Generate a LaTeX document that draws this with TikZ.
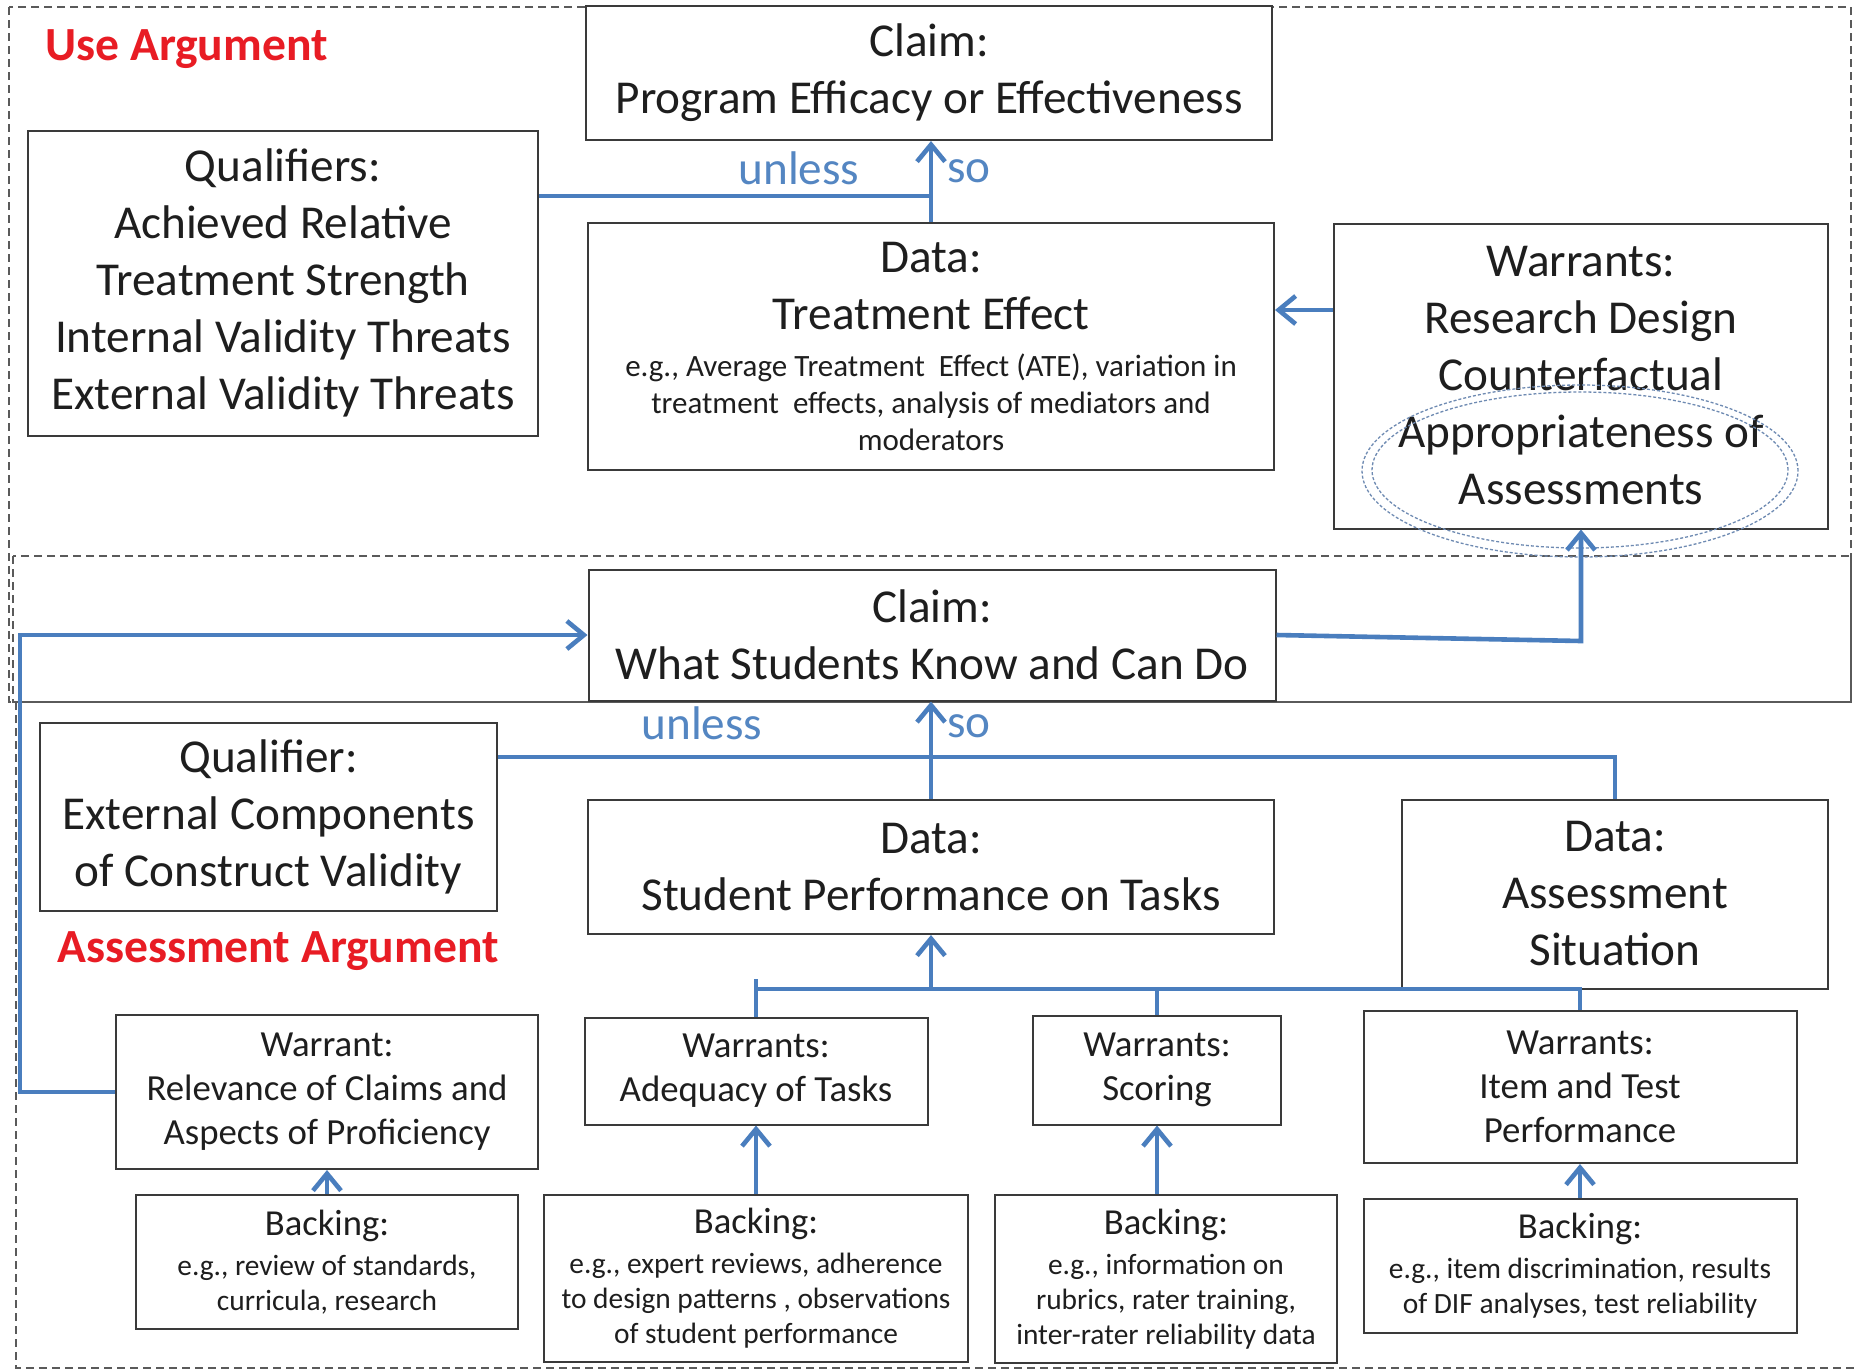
\documentclass[tikz,border=0pt]{standalone}
\usepackage{fontspec}
\setmainfont{Carlito}
\usetikzlibrary{arrows.meta,calc}

\definecolor{wireblue}{RGB}{74,126,190}
\definecolor{tagblue}{RGB}{84,134,194}
\definecolor{argred}{RGB}{232,28,36}
\definecolor{boxgray}{RGB}{58,58,58}
\definecolor{zonegray}{RGB}{90,90,90}
\definecolor{haloblue}{RGB}{110,138,178}
\definecolor{inkgray}{RGB}{30,30,30}

\newcommand\egfont{\fontsize{15.5}{18.5}\selectfont}
\newcommand\bkhead{\fontsize{18.3}{22}\selectfont}

\begin{document}
\begin{tikzpicture}[x=0.5pt,y=-0.5pt,
  box/.style={draw=boxgray, line width=1pt, fill=white, align=center,
              inner sep=0pt, text=inkgray},
  sz/.style 2 args={minimum width=#1*0.5pt, minimum height=#2*0.5pt},
  bigtxt/.style={font=\fontsize{23.6}{28.5}\selectfont},
  midtxt/.style={font=\fontsize{18.4}{22}\selectfont},
  bktxt/.style={font=\fontsize{14.7}{17.5}\selectfont},
  wire/.style={draw=wireblue, line width=2.3pt},
  wirearrow/.style={wire, -{Straight Barb[length=8.5pt,width=14pt]}},
  zone/.style={draw=zonegray, line width=0.8pt, dash pattern=on 4pt off 2.5pt},
  halo/.style={draw=haloblue, line width=0.65pt, dash pattern=on 1.5pt off 1pt},
  tag/.style={text=tagblue, font=\fontsize{23.6}{28}\selectfont, inner sep=0pt},
  heading/.style={text=argred, font=\bfseries\fontsize{23.8}{28}\selectfont,
                  anchor=west, inner sep=0pt}]

% canvas
\fill[white] (0,0) rectangle (1855,1371);
\useasboundingbox (0,0) rectangle (1855,1371);

% dashed argument regions
\draw[zone] (9,7) rectangle (1851,702);
\draw[zone] (13,556) rectangle (1851,702);
\draw[zone] (16,702) -- (16,1368) -- (1855,1368);

% ---------- use argument ----------
\node[heading] (useArg) at (45,49) {Use Argument};

\node[box,bigtxt,sz={686}{134}] (claimTop) at (929,73)
  {Claim:\\Program Efficacy or Effectiveness};
\node[box,bigtxt,sz={510}{305}] (qual1) at (283,283)
  {Qualifiers:\\Achieved Relative\\Treatment Strength\\Internal Validity Threats\\External Validity Threats};
\node[box,bigtxt,sz={686}{247}] (data1) at (931,346)
  {Data:\\Treatment Effect\\[-5pt]
   {\egfont e.g., Average Treatment\ \ Effect (ATE), variation in}\\[-10pt]
   {\egfont treatment\ \ effects, analysis of mediators and}\\[-10pt]
   {\egfont moderators}};
\node[box,bigtxt,sz={494}{305}] (warr1) at (1581,376)
  {Warrants:\\Research Design\\Counterfactual\\Appropriateness of\\Assessments};

% highlight ring around the last warrant
\draw[halo] (1580,471) ellipse [x radius=109pt, y radius=43pt];
\draw[halo] (1580,470) ellipse [x radius=104pt, y radius=39pt];

\node[tag] (unlessA) at (799,168) {unless};
\node[tag] (soA) at (969,171) {so};

% ---------- linking claim ----------
\node[box,bigtxt,sz={687}{131}] (claim2) at (932,635)
  {Claim:\\What Students Know and Can Do};

% ---------- assessment argument ----------
\node[box,bigtxt,sz={457}{188}] (qual2) at (268.5,817)
  {Qualifier:\\External Components\\of Construct Validity};
\node[heading] (assArg) at (57,951) {Assessment Argument};
\node[box,bigtxt,sz={686}{134}] (dataS) at (931,867)
  {Data:\\Student Performance on Tasks};
\node[box,bigtxt,sz={426}{189}] (dataA) at (1615,894)
  {Data:\\Assessment\\Situation};

\node[tag] (unlessB) at (702,723) {unless};
\node[tag] (soB) at (969,726) {so};

\node[box,midtxt,sz={422}{154}] (wRel) at (327,1092)
  {Warrant:\\Relevance of Claims and\\Aspects of Proficiency};
\node[box,midtxt,sz={343}{107}] (wAde) at (756,1071)
  {Warrants:\\Adequacy of Tasks};
\node[box,midtxt,sz={248}{109}] (wSco) at (1157,1070)
  {Warrants:\\Scoring};
\node[box,midtxt,sz={433}{152}] (wItem) at (1580,1087)
  {Warrants:\\Item and Test\\Performance};

\node[box,bktxt,sz={382}{134}] (bk1) at (327,1262)
  {{\bkhead Backing:}\\[2.5pt]e.g., review of standards,\\curricula, research};
\node[box,bktxt,sz={424}{167}] (bk2) at (756,1278)
  {{\bkhead Backing:}\\[2.5pt]e.g., expert reviews, adherence\\to design patterns , observations\\of student performance};
\node[box,bktxt,sz={342}{168}] (bk3) at (1166,1279)
  {{\bkhead Backing:}\\[2.5pt]e.g., information on\\rubrics, rater training,\\inter-rater reliability data};
\node[box,bktxt,sz={433}{134}] (bk4) at (1580,1266)
  {{\bkhead Backing:}\\[2.5pt]e.g., item discrimination, results\\of DIF analyses, test reliability};

% ---------- connectors ----------
\coordinate (j1) at (931,196);
\coordinate (wy) at (0,310);
\coordinate (elbow) at (1581,641);
\coordinate (loopx) at (20,0);
\coordinate (j2) at (1615,757);
\coordinate (bus) at (931,989);
\coordinate (tick) at (756,979);

% use argument: data -> claim, qualifiers, warrants
\draw[wire] (qual1.east |- j1) -- (j1);
\draw[wirearrow] (data1.north) -- (data1.north |- claimTop.south);
\draw[wirearrow] (warr1.west |- wy) -- (data1.east |- wy);

% claim about students feeds the assessment warrant
\draw[wirearrow] (claim2.east) -- (elbow) -- (warr1.south);
\draw[wirearrow] (wRel.west) -- (wRel.west -| loopx) -- (loopx |- claim2.west) -- (claim2.west);

% assessment argument: data -> claim, qualifier
\draw[wire] (qual2.east |- j2) -- (j2) -- (dataA.north);
\draw[wirearrow] (dataS.north) -- (dataS.north |- claim2.south);

% warrant bus
\draw[wire] (wAde.north) -- (tick);
\draw[wire] (wAde.north |- bus) -- (wItem.north |- bus) -- (wItem.north);
\draw[wire] (wSco.north) -- (wSco.north |- bus);
\draw[wirearrow] (bus) -- (dataS.south);

% backings support warrants
\draw[wirearrow] (bk1.north) -- (wRel.south);
\draw[wirearrow] (bk2.north) -- (wAde.south);
\draw[wirearrow] (wSco.south |- bk3.north) -- (wSco.south);
\draw[wirearrow] (bk4.north) -- (wItem.south);

\end{tikzpicture}
\end{document}
